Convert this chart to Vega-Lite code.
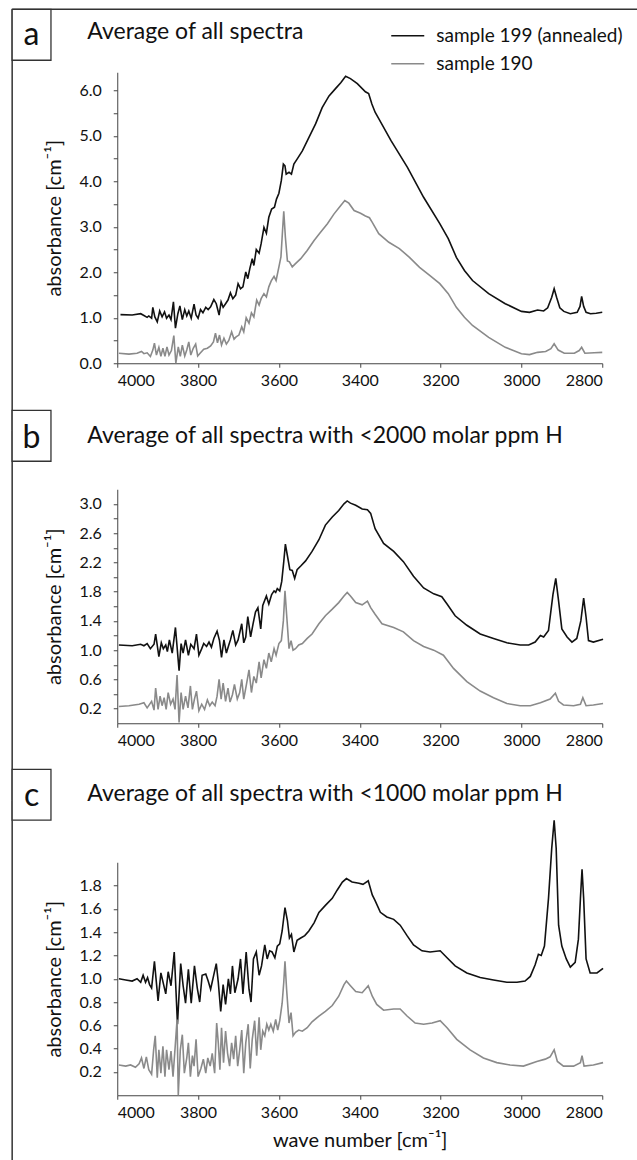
{
"$schema": "https://vega.github.io/schema/vega-lite/v6.json",
"background": "white",
"padding": {"left": 11.25, "top": 8.25, "right": 0, "bottom": 0},
"config": {
  "font": "Lato",
  "view": {"stroke": null},
  "axis": {"domainColor": "#444444", "tickColor": "#444444", "labelColor": "#111111", "titleColor": "#111111", "labelFont": "Lato", "titleFont": "Lato", "labelFontSize": 16, "titleFontSize": 20, "titleFontWeight": "normal", "grid": false, "tickSize": 4, "domainWidth": 1, "tickWidth": 1, "labelOverlap": false, "tickCount": 50},
  "line": {"strokeWidth": 1.5}
},
"bounds": "flush",
"spacing": 126,
"resolve": {"scale": {"x": "independent", "y": "independent"}, "axis": {"x": "independent", "y": "independent"}, "legend": {"color": "independent"}},
"datasets": {
"a": [
{"series":"sample 199 (annealed)","wavenumber":3992,"absorbance":1.07},{"series":"sample 199 (annealed)","wavenumber":3963,"absorbance":1.06},{"series":"sample 199 (annealed)","wavenumber":3942,"absorbance":1.09},{"series":"sample 199 (annealed)","wavenumber":3934,"absorbance":1.05},{"series":"sample 199 (annealed)","wavenumber":3926,"absorbance":1.01},{"series":"sample 199 (annealed)","wavenumber":3922,"absorbance":1.04},{"series":"sample 199 (annealed)","wavenumber":3915,"absorbance":0.99},{"series":"sample 199 (annealed)","wavenumber":3912,"absorbance":1.23},{"series":"sample 199 (annealed)","wavenumber":3907,"absorbance":1.02},{"series":"sample 199 (annealed)","wavenumber":3901,"absorbance":0.91},{"series":"sample 199 (annealed)","wavenumber":3895,"absorbance":1.15},{"series":"sample 199 (annealed)","wavenumber":3889,"absorbance":1.02},{"series":"sample 199 (annealed)","wavenumber":3883,"absorbance":1.13},{"series":"sample 199 (annealed)","wavenumber":3878,"absorbance":0.99},{"series":"sample 199 (annealed)","wavenumber":3872,"absorbance":1.06},{"series":"sample 199 (annealed)","wavenumber":3867,"absorbance":0.96},{"series":"sample 199 (annealed)","wavenumber":3861,"absorbance":1.35},{"series":"sample 199 (annealed)","wavenumber":3856,"absorbance":0.77},{"series":"sample 199 (annealed)","wavenumber":3850,"absorbance":1.09},{"series":"sample 199 (annealed)","wavenumber":3845,"absorbance":1.26},{"series":"sample 199 (annealed)","wavenumber":3839,"absorbance":0.96},{"series":"sample 199 (annealed)","wavenumber":3833,"absorbance":1.18},{"series":"sample 199 (annealed)","wavenumber":3828,"absorbance":1.04},{"series":"sample 199 (annealed)","wavenumber":3823,"absorbance":1.15},{"series":"sample 199 (annealed)","wavenumber":3817,"absorbance":0.99},{"series":"sample 199 (annealed)","wavenumber":3810,"absorbance":1.30},{"series":"sample 199 (annealed)","wavenumber":3805,"absorbance":1.06},{"series":"sample 199 (annealed)","wavenumber":3800,"absorbance":0.99},{"series":"sample 199 (annealed)","wavenumber":3794,"absorbance":1.18},{"series":"sample 199 (annealed)","wavenumber":3788,"absorbance":1.11},{"series":"sample 199 (annealed)","wavenumber":3781,"absorbance":1.23},{"series":"sample 199 (annealed)","wavenumber":3775,"absorbance":1.18},{"series":"sample 199 (annealed)","wavenumber":3769,"absorbance":1.24},{"series":"sample 199 (annealed)","wavenumber":3761,"absorbance":1.40},{"series":"sample 199 (annealed)","wavenumber":3755,"absorbance":1.31},{"series":"sample 199 (annealed)","wavenumber":3748,"absorbance":1.06},{"series":"sample 199 (annealed)","wavenumber":3743,"absorbance":1.35},{"series":"sample 199 (annealed)","wavenumber":3738,"absorbance":1.23},{"series":"sample 199 (annealed)","wavenumber":3732,"absorbance":1.31},{"series":"sample 199 (annealed)","wavenumber":3726,"absorbance":1.39},{"series":"sample 199 (annealed)","wavenumber":3720,"absorbance":1.55},{"series":"sample 199 (annealed)","wavenumber":3714,"absorbance":1.42},{"series":"sample 199 (annealed)","wavenumber":3707,"absorbance":1.50},{"series":"sample 199 (annealed)","wavenumber":3701,"absorbance":1.75},{"series":"sample 199 (annealed)","wavenumber":3695,"absorbance":1.64},{"series":"sample 199 (annealed)","wavenumber":3689,"absorbance":1.68},{"series":"sample 199 (annealed)","wavenumber":3682,"absorbance":2.01},{"series":"sample 199 (annealed)","wavenumber":3677,"absorbance":1.86},{"series":"sample 199 (annealed)","wavenumber":3672,"absorbance":2.08},{"series":"sample 199 (annealed)","wavenumber":3666,"absorbance":2.30},{"series":"sample 199 (annealed)","wavenumber":3662,"absorbance":2.15},{"series":"sample 199 (annealed)","wavenumber":3656,"absorbance":2.50},{"series":"sample 199 (annealed)","wavenumber":3649,"absorbance":2.42},{"series":"sample 199 (annealed)","wavenumber":3644,"absorbance":2.63},{"series":"sample 199 (annealed)","wavenumber":3637,"absorbance":2.99},{"series":"sample 199 (annealed)","wavenumber":3631,"absorbance":2.86},{"series":"sample 199 (annealed)","wavenumber":3625,"absorbance":3.21},{"series":"sample 199 (annealed)","wavenumber":3618,"absorbance":3.39},{"series":"sample 199 (annealed)","wavenumber":3611,"absorbance":3.43},{"series":"sample 199 (annealed)","wavenumber":3606,"absorbance":3.61},{"series":"sample 199 (annealed)","wavenumber":3600,"absorbance":3.74},{"series":"sample 199 (annealed)","wavenumber":3594,"absorbance":4.02},{"series":"sample 199 (annealed)","wavenumber":3589,"absorbance":4.38},{"series":"sample 199 (annealed)","wavenumber":3585,"absorbance":4.34},{"series":"sample 199 (annealed)","wavenumber":3582,"absorbance":4.16},{"series":"sample 199 (annealed)","wavenumber":3575,"absorbance":4.20},{"series":"sample 199 (annealed)","wavenumber":3569,"absorbance":4.16},{"series":"sample 199 (annealed)","wavenumber":3563,"absorbance":4.38},{"series":"sample 199 (annealed)","wavenumber":3555,"absorbance":4.49},{"series":"sample 199 (annealed)","wavenumber":3542,"absorbance":4.67},{"series":"sample 199 (annealed)","wavenumber":3526,"absorbance":4.96},{"series":"sample 199 (annealed)","wavenumber":3509,"absorbance":5.27},{"series":"sample 199 (annealed)","wavenumber":3493,"absorbance":5.62},{"series":"sample 199 (annealed)","wavenumber":3476,"absorbance":5.88},{"series":"sample 199 (annealed)","wavenumber":3460,"absorbance":6.04},{"series":"sample 199 (annealed)","wavenumber":3447,"absorbance":6.17},{"series":"sample 199 (annealed)","wavenumber":3435,"absorbance":6.31},{"series":"sample 199 (annealed)","wavenumber":3423,"absorbance":6.26},{"series":"sample 199 (annealed)","wavenumber":3406,"absorbance":6.15},{"series":"sample 199 (annealed)","wavenumber":3386,"absorbance":5.97},{"series":"sample 199 (annealed)","wavenumber":3378,"absorbance":5.93},{"series":"sample 199 (annealed)","wavenumber":3370,"absorbance":5.70},{"series":"sample 199 (annealed)","wavenumber":3362,"absorbance":5.52},{"series":"sample 199 (annealed)","wavenumber":3353,"absorbance":5.38},{"series":"sample 199 (annealed)","wavenumber":3323,"absorbance":4.90},{"series":"sample 199 (annealed)","wavenumber":3282,"absorbance":4.31},{"series":"sample 199 (annealed)","wavenumber":3242,"absorbance":3.65},{"series":"sample 199 (annealed)","wavenumber":3202,"absorbance":3.07},{"series":"sample 199 (annealed)","wavenumber":3181,"absorbance":2.74},{"series":"sample 199 (annealed)","wavenumber":3161,"absorbance":2.33},{"series":"sample 199 (annealed)","wavenumber":3141,"absorbance":2.04},{"series":"sample 199 (annealed)","wavenumber":3121,"absorbance":1.82},{"series":"sample 199 (annealed)","wavenumber":3081,"absorbance":1.53},{"series":"sample 199 (annealed)","wavenumber":3040,"absorbance":1.31},{"series":"sample 199 (annealed)","wavenumber":3000,"absorbance":1.14},{"series":"sample 199 (annealed)","wavenumber":2980,"absorbance":1.12},{"series":"sample 199 (annealed)","wavenumber":2960,"absorbance":1.17},{"series":"sample 199 (annealed)","wavenumber":2945,"absorbance":1.15},{"series":"sample 199 (annealed)","wavenumber":2935,"absorbance":1.22},{"series":"sample 199 (annealed)","wavenumber":2925,"absorbance":1.45},{"series":"sample 199 (annealed)","wavenumber":2919,"absorbance":1.64},{"series":"sample 199 (annealed)","wavenumber":2913,"absorbance":1.45},{"series":"sample 199 (annealed)","wavenumber":2905,"absorbance":1.22},{"series":"sample 199 (annealed)","wavenumber":2895,"absorbance":1.14},{"series":"sample 199 (annealed)","wavenumber":2879,"absorbance":1.09},{"series":"sample 199 (annealed)","wavenumber":2862,"absorbance":1.12},{"series":"sample 199 (annealed)","wavenumber":2855,"absorbance":1.25},{"series":"sample 199 (annealed)","wavenumber":2851,"absorbance":1.47},{"series":"sample 199 (annealed)","wavenumber":2846,"absorbance":1.25},{"series":"sample 199 (annealed)","wavenumber":2840,"absorbance":1.12},{"series":"sample 199 (annealed)","wavenumber":2829,"absorbance":1.09},{"series":"sample 199 (annealed)","wavenumber":2815,"absorbance":1.10},{"series":"sample 199 (annealed)","wavenumber":2800,"absorbance":1.12},
{"series":"sample 190","wavenumber":3996,"absorbance":0.22},{"series":"sample 190","wavenumber":3971,"absorbance":0.20},{"series":"sample 190","wavenumber":3951,"absorbance":0.22},{"series":"sample 190","wavenumber":3940,"absorbance":0.26},{"series":"sample 190","wavenumber":3934,"absorbance":0.21},{"series":"sample 190","wavenumber":3926,"absorbance":0.23},{"series":"sample 190","wavenumber":3918,"absorbance":0.15},{"series":"sample 190","wavenumber":3912,"absorbance":0.29},{"series":"sample 190","wavenumber":3908,"absorbance":0.44},{"series":"sample 190","wavenumber":3903,"absorbance":0.18},{"series":"sample 190","wavenumber":3897,"absorbance":0.35},{"series":"sample 190","wavenumber":3892,"absorbance":0.15},{"series":"sample 190","wavenumber":3887,"absorbance":0.33},{"series":"sample 190","wavenumber":3882,"absorbance":0.15},{"series":"sample 190","wavenumber":3877,"absorbance":0.36},{"series":"sample 190","wavenumber":3872,"absorbance":0.18},{"series":"sample 190","wavenumber":3866,"absorbance":0.28},{"series":"sample 190","wavenumber":3860,"absorbance":0.61},{"series":"sample 190","wavenumber":3855,"absorbance":0.0},{"series":"sample 190","wavenumber":3849,"absorbance":0.36},{"series":"sample 190","wavenumber":3844,"absorbance":0.15},{"series":"sample 190","wavenumber":3839,"absorbance":0.40},{"series":"sample 190","wavenumber":3833,"absorbance":0.16},{"series":"sample 190","wavenumber":3828,"absorbance":0.29},{"series":"sample 190","wavenumber":3823,"absorbance":0.47},{"series":"sample 190","wavenumber":3818,"absorbance":0.18},{"series":"sample 190","wavenumber":3812,"absorbance":0.33},{"series":"sample 190","wavenumber":3806,"absorbance":0.42},{"series":"sample 190","wavenumber":3801,"absorbance":0.16},{"series":"sample 190","wavenumber":3794,"absorbance":0.23},{"series":"sample 190","wavenumber":3786,"absorbance":0.31},{"series":"sample 190","wavenumber":3777,"absorbance":0.33},{"series":"sample 190","wavenumber":3769,"absorbance":0.38},{"series":"sample 190","wavenumber":3762,"absorbance":0.47},{"series":"sample 190","wavenumber":3757,"absorbance":0.66},{"series":"sample 190","wavenumber":3752,"absorbance":0.45},{"series":"sample 190","wavenumber":3747,"absorbance":0.62},{"series":"sample 190","wavenumber":3742,"absorbance":0.40},{"series":"sample 190","wavenumber":3736,"absorbance":0.55},{"series":"sample 190","wavenumber":3730,"absorbance":0.42},{"series":"sample 190","wavenumber":3724,"absorbance":0.50},{"series":"sample 190","wavenumber":3717,"absorbance":0.69},{"series":"sample 190","wavenumber":3711,"absorbance":0.53},{"series":"sample 190","wavenumber":3706,"absorbance":0.58},{"series":"sample 190","wavenumber":3699,"absorbance":0.62},{"series":"sample 190","wavenumber":3692,"absorbance":0.80},{"series":"sample 190","wavenumber":3687,"absorbance":0.69},{"series":"sample 190","wavenumber":3681,"absorbance":1.00},{"series":"sample 190","wavenumber":3674,"absorbance":0.88},{"series":"sample 190","wavenumber":3668,"absorbance":1.11},{"series":"sample 190","wavenumber":3662,"absorbance":1.02},{"series":"sample 190","wavenumber":3655,"absorbance":1.39},{"series":"sample 190","wavenumber":3649,"absorbance":1.28},{"series":"sample 190","wavenumber":3644,"absorbance":1.42},{"series":"sample 190","wavenumber":3637,"absorbance":1.53},{"series":"sample 190","wavenumber":3631,"absorbance":1.46},{"series":"sample 190","wavenumber":3625,"absorbance":1.68},{"series":"sample 190","wavenumber":3619,"absorbance":1.81},{"series":"sample 190","wavenumber":3612,"absorbance":1.91},{"series":"sample 190","wavenumber":3607,"absorbance":1.82},{"series":"sample 190","wavenumber":3600,"absorbance":2.12},{"series":"sample 190","wavenumber":3595,"absorbance":2.34},{"series":"sample 190","wavenumber":3591,"absorbance":2.92},{"series":"sample 190","wavenumber":3588,"absorbance":3.34},{"series":"sample 190","wavenumber":3584,"absorbance":2.77},{"series":"sample 190","wavenumber":3579,"absorbance":2.25},{"series":"sample 190","wavenumber":3574,"absorbance":2.23},{"series":"sample 190","wavenumber":3567,"absorbance":2.12},{"series":"sample 190","wavenumber":3559,"absorbance":2.19},{"series":"sample 190","wavenumber":3546,"absorbance":2.30},{"series":"sample 190","wavenumber":3530,"absorbance":2.48},{"series":"sample 190","wavenumber":3513,"absorbance":2.70},{"series":"sample 190","wavenumber":3497,"absorbance":2.88},{"series":"sample 190","wavenumber":3480,"absorbance":3.07},{"series":"sample 190","wavenumber":3464,"absorbance":3.28},{"series":"sample 190","wavenumber":3447,"absorbance":3.47},{"series":"sample 190","wavenumber":3437,"absorbance":3.58},{"series":"sample 190","wavenumber":3427,"absorbance":3.52},{"series":"sample 190","wavenumber":3414,"absorbance":3.36},{"series":"sample 190","wavenumber":3398,"absorbance":3.30},{"series":"sample 190","wavenumber":3386,"absorbance":3.24},{"series":"sample 190","wavenumber":3376,"absorbance":3.20},{"series":"sample 190","wavenumber":3369,"absorbance":3.10},{"series":"sample 190","wavenumber":3353,"absorbance":2.85},{"series":"sample 190","wavenumber":3328,"absorbance":2.66},{"series":"sample 190","wavenumber":3302,"absorbance":2.52},{"series":"sample 190","wavenumber":3277,"absorbance":2.33},{"series":"sample 190","wavenumber":3252,"absorbance":2.11},{"series":"sample 190","wavenumber":3227,"absorbance":1.93},{"series":"sample 190","wavenumber":3202,"absorbance":1.75},{"series":"sample 190","wavenumber":3181,"absorbance":1.53},{"series":"sample 190","wavenumber":3161,"absorbance":1.23},{"series":"sample 190","wavenumber":3141,"absorbance":1.01},{"series":"sample 190","wavenumber":3121,"absorbance":0.83},{"series":"sample 190","wavenumber":3081,"absorbance":0.57},{"series":"sample 190","wavenumber":3040,"absorbance":0.35},{"series":"sample 190","wavenumber":3000,"absorbance":0.21},{"series":"sample 190","wavenumber":2980,"absorbance":0.19},{"series":"sample 190","wavenumber":2960,"absorbance":0.24},{"series":"sample 190","wavenumber":2940,"absorbance":0.26},{"series":"sample 190","wavenumber":2927,"absorbance":0.32},{"series":"sample 190","wavenumber":2919,"absorbance":0.43},{"series":"sample 190","wavenumber":2909,"absorbance":0.29},{"series":"sample 190","wavenumber":2894,"absorbance":0.22},{"series":"sample 190","wavenumber":2869,"absorbance":0.22},{"series":"sample 190","wavenumber":2857,"absorbance":0.28},{"series":"sample 190","wavenumber":2851,"absorbance":0.35},{"series":"sample 190","wavenumber":2843,"absorbance":0.22},{"series":"sample 190","wavenumber":2820,"absorbance":0.23},{"series":"sample 190","wavenumber":2800,"absorbance":0.24}
],
"b": [
{"series":"sample 199 (annealed)","wavenumber":3996,"absorbance":1.07},{"series":"sample 199 (annealed)","wavenumber":3963,"absorbance":1.06},{"series":"sample 199 (annealed)","wavenumber":3942,"absorbance":1.08},{"series":"sample 199 (annealed)","wavenumber":3934,"absorbance":1.06},{"series":"sample 199 (annealed)","wavenumber":3926,"absorbance":1.09},{"series":"sample 199 (annealed)","wavenumber":3918,"absorbance":1.02},{"series":"sample 199 (annealed)","wavenumber":3909,"absorbance":1.08},{"series":"sample 199 (annealed)","wavenumber":3905,"absorbance":1.22},{"series":"sample 199 (annealed)","wavenumber":3897,"absorbance":0.91},{"series":"sample 199 (annealed)","wavenumber":3891,"absorbance":1.10},{"series":"sample 199 (annealed)","wavenumber":3886,"absorbance":1.02},{"series":"sample 199 (annealed)","wavenumber":3880,"absorbance":1.07},{"series":"sample 199 (annealed)","wavenumber":3876,"absorbance":0.98},{"series":"sample 199 (annealed)","wavenumber":3871,"absorbance":1.14},{"series":"sample 199 (annealed)","wavenumber":3864,"absorbance":0.96},{"series":"sample 199 (annealed)","wavenumber":3856,"absorbance":1.31},{"series":"sample 199 (annealed)","wavenumber":3847,"absorbance":0.72},{"series":"sample 199 (annealed)","wavenumber":3842,"absorbance":1.09},{"series":"sample 199 (annealed)","wavenumber":3837,"absorbance":0.96},{"series":"sample 199 (annealed)","wavenumber":3831,"absorbance":1.14},{"series":"sample 199 (annealed)","wavenumber":3824,"absorbance":0.93},{"series":"sample 199 (annealed)","wavenumber":3818,"absorbance":1.08},{"series":"sample 199 (annealed)","wavenumber":3810,"absorbance":1.02},{"series":"sample 199 (annealed)","wavenumber":3804,"absorbance":1.22},{"series":"sample 199 (annealed)","wavenumber":3798,"absorbance":0.93},{"series":"sample 199 (annealed)","wavenumber":3791,"absorbance":1.02},{"series":"sample 199 (annealed)","wavenumber":3786,"absorbance":1.09},{"series":"sample 199 (annealed)","wavenumber":3779,"absorbance":1.05},{"series":"sample 199 (annealed)","wavenumber":3773,"absorbance":1.11},{"series":"sample 199 (annealed)","wavenumber":3767,"absorbance":1.04},{"series":"sample 199 (annealed)","wavenumber":3761,"absorbance":1.16},{"series":"sample 199 (annealed)","wavenumber":3753,"absorbance":1.26},{"series":"sample 199 (annealed)","wavenumber":3747,"absorbance":1.13},{"series":"sample 199 (annealed)","wavenumber":3742,"absorbance":0.90},{"series":"sample 199 (annealed)","wavenumber":3736,"absorbance":1.14},{"series":"sample 199 (annealed)","wavenumber":3730,"absorbance":0.96},{"series":"sample 199 (annealed)","wavenumber":3724,"absorbance":1.07},{"series":"sample 199 (annealed)","wavenumber":3720,"absorbance":1.14},{"series":"sample 199 (annealed)","wavenumber":3714,"absorbance":1.27},{"series":"sample 199 (annealed)","wavenumber":3707,"absorbance":1.07},{"series":"sample 199 (annealed)","wavenumber":3701,"absorbance":1.14},{"series":"sample 199 (annealed)","wavenumber":3692,"absorbance":1.36},{"series":"sample 199 (annealed)","wavenumber":3687,"absorbance":1.10},{"series":"sample 199 (annealed)","wavenumber":3682,"absorbance":1.18},{"series":"sample 199 (annealed)","wavenumber":3677,"absorbance":1.46},{"series":"sample 199 (annealed)","wavenumber":3670,"absorbance":1.18},{"series":"sample 199 (annealed)","wavenumber":3664,"absorbance":1.36},{"series":"sample 199 (annealed)","wavenumber":3658,"absorbance":1.52},{"series":"sample 199 (annealed)","wavenumber":3652,"absorbance":1.58},{"series":"sample 199 (annealed)","wavenumber":3645,"absorbance":1.29},{"series":"sample 199 (annealed)","wavenumber":3640,"absorbance":1.61},{"series":"sample 199 (annealed)","wavenumber":3631,"absorbance":1.74},{"series":"sample 199 (annealed)","wavenumber":3625,"absorbance":1.63},{"series":"sample 199 (annealed)","wavenumber":3618,"absorbance":1.76},{"series":"sample 199 (annealed)","wavenumber":3612,"absorbance":1.81},{"series":"sample 199 (annealed)","wavenumber":3608,"absorbance":1.79},{"series":"sample 199 (annealed)","wavenumber":3604,"absorbance":1.84},{"series":"sample 199 (annealed)","wavenumber":3598,"absorbance":1.81},{"series":"sample 199 (annealed)","wavenumber":3593,"absorbance":1.94},{"series":"sample 199 (annealed)","wavenumber":3588,"absorbance":2.21},{"series":"sample 199 (annealed)","wavenumber":3584,"absorbance":2.45},{"series":"sample 199 (annealed)","wavenumber":3578,"absorbance":2.26},{"series":"sample 199 (annealed)","wavenumber":3573,"absorbance":2.10},{"series":"sample 199 (annealed)","wavenumber":3567,"absorbance":2.09},{"series":"sample 199 (annealed)","wavenumber":3561,"absorbance":1.98},{"series":"sample 199 (annealed)","wavenumber":3555,"absorbance":2.10},{"series":"sample 199 (annealed)","wavenumber":3546,"absorbance":2.15},{"series":"sample 199 (annealed)","wavenumber":3534,"absorbance":2.22},{"series":"sample 199 (annealed)","wavenumber":3518,"absorbance":2.35},{"series":"sample 199 (annealed)","wavenumber":3501,"absorbance":2.51},{"series":"sample 199 (annealed)","wavenumber":3485,"absorbance":2.71},{"series":"sample 199 (annealed)","wavenumber":3468,"absorbance":2.82},{"series":"sample 199 (annealed)","wavenumber":3452,"absorbance":2.91},{"series":"sample 199 (annealed)","wavenumber":3439,"absorbance":3.00},{"series":"sample 199 (annealed)","wavenumber":3431,"absorbance":3.04},{"series":"sample 199 (annealed)","wavenumber":3423,"absorbance":3.01},{"series":"sample 199 (annealed)","wavenumber":3410,"absorbance":2.98},{"series":"sample 199 (annealed)","wavenumber":3394,"absorbance":2.93},{"series":"sample 199 (annealed)","wavenumber":3381,"absorbance":2.92},{"series":"sample 199 (annealed)","wavenumber":3373,"absorbance":2.87},{"series":"sample 199 (annealed)","wavenumber":3362,"absorbance":2.66},{"series":"sample 199 (annealed)","wavenumber":3341,"absorbance":2.46},{"series":"sample 199 (annealed)","wavenumber":3316,"absorbance":2.35},{"series":"sample 199 (annealed)","wavenumber":3292,"absorbance":2.21},{"series":"sample 199 (annealed)","wavenumber":3267,"absorbance":2.01},{"series":"sample 199 (annealed)","wavenumber":3242,"absorbance":1.85},{"series":"sample 199 (annealed)","wavenumber":3217,"absorbance":1.77},{"series":"sample 199 (annealed)","wavenumber":3197,"absorbance":1.73},{"series":"sample 199 (annealed)","wavenumber":3184,"absorbance":1.63},{"series":"sample 199 (annealed)","wavenumber":3164,"absorbance":1.47},{"series":"sample 199 (annealed)","wavenumber":3135,"absorbance":1.34},{"series":"sample 199 (annealed)","wavenumber":3102,"absorbance":1.22},{"series":"sample 199 (annealed)","wavenumber":3069,"absorbance":1.16},{"series":"sample 199 (annealed)","wavenumber":3036,"absorbance":1.10},{"series":"sample 199 (annealed)","wavenumber":3003,"absorbance":1.07},{"series":"sample 199 (annealed)","wavenumber":2982,"absorbance":1.07},{"series":"sample 199 (annealed)","wavenumber":2966,"absorbance":1.11},{"series":"sample 199 (annealed)","wavenumber":2953,"absorbance":1.20},{"series":"sample 199 (annealed)","wavenumber":2945,"absorbance":1.18},{"series":"sample 199 (annealed)","wavenumber":2933,"absorbance":1.27},{"series":"sample 199 (annealed)","wavenumber":2922,"absorbance":1.76},{"series":"sample 199 (annealed)","wavenumber":2915,"absorbance":1.98},{"series":"sample 199 (annealed)","wavenumber":2908,"absorbance":1.67},{"series":"sample 199 (annealed)","wavenumber":2900,"absorbance":1.29},{"series":"sample 199 (annealed)","wavenumber":2887,"absorbance":1.18},{"series":"sample 199 (annealed)","wavenumber":2875,"absorbance":1.11},{"series":"sample 199 (annealed)","wavenumber":2863,"absorbance":1.16},{"series":"sample 199 (annealed)","wavenumber":2853,"absorbance":1.40},{"series":"sample 199 (annealed)","wavenumber":2846,"absorbance":1.71},{"series":"sample 199 (annealed)","wavenumber":2840,"absorbance":1.45},{"series":"sample 199 (annealed)","wavenumber":2834,"absorbance":1.13},{"series":"sample 199 (annealed)","wavenumber":2822,"absorbance":1.11},{"series":"sample 199 (annealed)","wavenumber":2798,"absorbance":1.15},
{"series":"sample 190","wavenumber":3996,"absorbance":0.23},{"series":"sample 190","wavenumber":3971,"absorbance":0.24},{"series":"sample 190","wavenumber":3946,"absorbance":0.26},{"series":"sample 190","wavenumber":3934,"absorbance":0.28},{"series":"sample 190","wavenumber":3926,"absorbance":0.21},{"series":"sample 190","wavenumber":3915,"absorbance":0.30},{"series":"sample 190","wavenumber":3909,"absorbance":0.18},{"series":"sample 190","wavenumber":3905,"absorbance":0.48},{"series":"sample 190","wavenumber":3899,"absorbance":0.19},{"series":"sample 190","wavenumber":3894,"absorbance":0.37},{"series":"sample 190","wavenumber":3889,"absorbance":0.24},{"series":"sample 190","wavenumber":3884,"absorbance":0.35},{"series":"sample 190","wavenumber":3879,"absorbance":0.19},{"series":"sample 190","wavenumber":3874,"absorbance":0.42},{"series":"sample 190","wavenumber":3868,"absorbance":0.26},{"series":"sample 190","wavenumber":3862,"absorbance":0.33},{"series":"sample 190","wavenumber":3857,"absorbance":0.19},{"series":"sample 190","wavenumber":3852,"absorbance":0.66},{"series":"sample 190","wavenumber":3847,"absorbance":0.01},{"series":"sample 190","wavenumber":3842,"absorbance":0.42},{"series":"sample 190","wavenumber":3837,"absorbance":0.19},{"series":"sample 190","wavenumber":3831,"absorbance":0.37},{"series":"sample 190","wavenumber":3825,"absorbance":0.21},{"series":"sample 190","wavenumber":3819,"absorbance":0.51},{"series":"sample 190","wavenumber":3814,"absorbance":0.19},{"series":"sample 190","wavenumber":3809,"absorbance":0.33},{"series":"sample 190","wavenumber":3804,"absorbance":0.44},{"series":"sample 190","wavenumber":3798,"absorbance":0.17},{"series":"sample 190","wavenumber":3791,"absorbance":0.26},{"series":"sample 190","wavenumber":3784,"absorbance":0.19},{"series":"sample 190","wavenumber":3777,"absorbance":0.32},{"series":"sample 190","wavenumber":3771,"absorbance":0.24},{"series":"sample 190","wavenumber":3765,"absorbance":0.29},{"series":"sample 190","wavenumber":3758,"absorbance":0.24},{"series":"sample 190","wavenumber":3753,"absorbance":0.37},{"series":"sample 190","wavenumber":3748,"absorbance":0.60},{"series":"sample 190","wavenumber":3743,"absorbance":0.33},{"series":"sample 190","wavenumber":3738,"absorbance":0.55},{"series":"sample 190","wavenumber":3732,"absorbance":0.30},{"series":"sample 190","wavenumber":3726,"absorbance":0.48},{"series":"sample 190","wavenumber":3721,"absorbance":0.29},{"series":"sample 190","wavenumber":3715,"absorbance":0.39},{"series":"sample 190","wavenumber":3710,"absorbance":0.53},{"series":"sample 190","wavenumber":3703,"absorbance":0.33},{"series":"sample 190","wavenumber":3697,"absorbance":0.42},{"series":"sample 190","wavenumber":3692,"absorbance":0.60},{"series":"sample 190","wavenumber":3687,"absorbance":0.33},{"series":"sample 190","wavenumber":3681,"absorbance":0.51},{"series":"sample 190","wavenumber":3674,"absorbance":0.73},{"series":"sample 190","wavenumber":3668,"absorbance":0.42},{"series":"sample 190","wavenumber":3662,"absorbance":0.64},{"series":"sample 190","wavenumber":3656,"absorbance":0.55},{"series":"sample 190","wavenumber":3649,"absorbance":0.84},{"series":"sample 190","wavenumber":3644,"absorbance":0.62},{"series":"sample 190","wavenumber":3637,"absorbance":0.87},{"series":"sample 190","wavenumber":3631,"absorbance":0.75},{"series":"sample 190","wavenumber":3625,"absorbance":0.96},{"series":"sample 190","wavenumber":3619,"absorbance":0.84},{"series":"sample 190","wavenumber":3612,"absorbance":1.02},{"series":"sample 190","wavenumber":3607,"absorbance":0.93},{"series":"sample 190","wavenumber":3600,"absorbance":1.09},{"series":"sample 190","wavenumber":3594,"absorbance":1.13},{"series":"sample 190","wavenumber":3589,"absorbance":1.40},{"series":"sample 190","wavenumber":3585,"absorbance":1.81},{"series":"sample 190","wavenumber":3581,"absorbance":1.49},{"series":"sample 190","wavenumber":3575,"absorbance":1.02},{"series":"sample 190","wavenumber":3570,"absorbance":1.13},{"series":"sample 190","wavenumber":3565,"absorbance":1.00},{"series":"sample 190","wavenumber":3559,"absorbance":1.02},{"series":"sample 190","wavenumber":3551,"absorbance":1.07},{"series":"sample 190","wavenumber":3542,"absorbance":1.09},{"series":"sample 190","wavenumber":3530,"absorbance":1.16},{"series":"sample 190","wavenumber":3518,"absorbance":1.22},{"series":"sample 190","wavenumber":3501,"absorbance":1.36},{"series":"sample 190","wavenumber":3485,"absorbance":1.47},{"series":"sample 190","wavenumber":3468,"absorbance":1.56},{"series":"sample 190","wavenumber":3452,"absorbance":1.65},{"series":"sample 190","wavenumber":3439,"absorbance":1.74},{"series":"sample 190","wavenumber":3431,"absorbance":1.79},{"series":"sample 190","wavenumber":3423,"absorbance":1.74},{"series":"sample 190","wavenumber":3410,"absorbance":1.65},{"series":"sample 190","wavenumber":3394,"absorbance":1.62},{"series":"sample 190","wavenumber":3381,"absorbance":1.67},{"series":"sample 190","wavenumber":3373,"absorbance":1.58},{"series":"sample 190","wavenumber":3362,"absorbance":1.49},{"series":"sample 190","wavenumber":3345,"absorbance":1.36},{"series":"sample 190","wavenumber":3316,"absorbance":1.31},{"series":"sample 190","wavenumber":3292,"absorbance":1.25},{"series":"sample 190","wavenumber":3267,"absorbance":1.13},{"series":"sample 190","wavenumber":3242,"absorbance":1.05},{"series":"sample 190","wavenumber":3217,"absorbance":1.00},{"series":"sample 190","wavenumber":3193,"absorbance":0.93},{"series":"sample 190","wavenumber":3168,"absorbance":0.75},{"series":"sample 190","wavenumber":3135,"absorbance":0.57},{"series":"sample 190","wavenumber":3102,"absorbance":0.44},{"series":"sample 190","wavenumber":3069,"absorbance":0.35},{"series":"sample 190","wavenumber":3036,"absorbance":0.27},{"series":"sample 190","wavenumber":3003,"absorbance":0.24},{"series":"sample 190","wavenumber":2978,"absorbance":0.24},{"series":"sample 190","wavenumber":2953,"absorbance":0.28},{"series":"sample 190","wavenumber":2929,"absorbance":0.33},{"series":"sample 190","wavenumber":2916,"absorbance":0.41},{"series":"sample 190","wavenumber":2908,"absorbance":0.30},{"series":"sample 190","wavenumber":2896,"absorbance":0.25},{"series":"sample 190","wavenumber":2871,"absorbance":0.24},{"series":"sample 190","wavenumber":2854,"absorbance":0.26},{"series":"sample 190","wavenumber":2848,"absorbance":0.35},{"series":"sample 190","wavenumber":2840,"absorbance":0.24},{"series":"sample 190","wavenumber":2822,"absorbance":0.25},{"series":"sample 190","wavenumber":2798,"absorbance":0.27}
],
"c": [
{"series":"sample 199 (annealed)","wavenumber":3996,"absorbance":1.00},{"series":"sample 199 (annealed)","wavenumber":3979,"absorbance":0.99},{"series":"sample 199 (annealed)","wavenumber":3963,"absorbance":0.98},{"series":"sample 199 (annealed)","wavenumber":3951,"absorbance":1.00},{"series":"sample 199 (annealed)","wavenumber":3942,"absorbance":0.97},{"series":"sample 199 (annealed)","wavenumber":3936,"absorbance":1.03},{"series":"sample 199 (annealed)","wavenumber":3930,"absorbance":0.97},{"series":"sample 199 (annealed)","wavenumber":3925,"absorbance":1.01},{"series":"sample 199 (annealed)","wavenumber":3920,"absorbance":0.95},{"series":"sample 199 (annealed)","wavenumber":3915,"absorbance":0.92},{"series":"sample 199 (annealed)","wavenumber":3908,"absorbance":1.15},{"series":"sample 199 (annealed)","wavenumber":3899,"absorbance":0.81},{"series":"sample 199 (annealed)","wavenumber":3892,"absorbance":1.05},{"series":"sample 199 (annealed)","wavenumber":3886,"absorbance":0.96},{"series":"sample 199 (annealed)","wavenumber":3880,"absorbance":0.87},{"series":"sample 199 (annealed)","wavenumber":3874,"absorbance":1.06},{"series":"sample 199 (annealed)","wavenumber":3867,"absorbance":0.94},{"series":"sample 199 (annealed)","wavenumber":3859,"absorbance":1.23},{"series":"sample 199 (annealed)","wavenumber":3851,"absorbance":0.61},{"series":"sample 199 (annealed)","wavenumber":3843,"absorbance":1.13},{"series":"sample 199 (annealed)","wavenumber":3837,"absorbance":0.94},{"series":"sample 199 (annealed)","wavenumber":3831,"absorbance":0.79},{"series":"sample 199 (annealed)","wavenumber":3824,"absorbance":1.08},{"series":"sample 199 (annealed)","wavenumber":3817,"absorbance":0.79},{"series":"sample 199 (annealed)","wavenumber":3809,"absorbance":1.11},{"series":"sample 199 (annealed)","wavenumber":3802,"absorbance":0.92},{"series":"sample 199 (annealed)","wavenumber":3796,"absorbance":0.80},{"series":"sample 199 (annealed)","wavenumber":3790,"absorbance":1.03},{"series":"sample 199 (annealed)","wavenumber":3781,"absorbance":1.04},{"series":"sample 199 (annealed)","wavenumber":3775,"absorbance":0.98},{"series":"sample 199 (annealed)","wavenumber":3769,"absorbance":0.91},{"series":"sample 199 (annealed)","wavenumber":3762,"absorbance":1.02},{"series":"sample 199 (annealed)","wavenumber":3755,"absorbance":1.13},{"series":"sample 199 (annealed)","wavenumber":3750,"absorbance":0.97},{"series":"sample 199 (annealed)","wavenumber":3744,"absorbance":0.72},{"series":"sample 199 (annealed)","wavenumber":3738,"absorbance":0.95},{"series":"sample 199 (annealed)","wavenumber":3732,"absorbance":0.78},{"series":"sample 199 (annealed)","wavenumber":3725,"absorbance":1.00},{"series":"sample 199 (annealed)","wavenumber":3720,"absorbance":0.87},{"series":"sample 199 (annealed)","wavenumber":3715,"absorbance":1.11},{"series":"sample 199 (annealed)","wavenumber":3709,"absorbance":0.88},{"series":"sample 199 (annealed)","wavenumber":3701,"absorbance":1.00},{"series":"sample 199 (annealed)","wavenumber":3695,"absorbance":1.17},{"series":"sample 199 (annealed)","wavenumber":3689,"absorbance":0.87},{"series":"sample 199 (annealed)","wavenumber":3681,"absorbance":1.23},{"series":"sample 199 (annealed)","wavenumber":3674,"absorbance":0.91},{"series":"sample 199 (annealed)","wavenumber":3669,"absorbance":0.80},{"series":"sample 199 (annealed)","wavenumber":3663,"absorbance":1.17},{"series":"sample 199 (annealed)","wavenumber":3656,"absorbance":1.23},{"series":"sample 199 (annealed)","wavenumber":3649,"absorbance":1.03},{"series":"sample 199 (annealed)","wavenumber":3643,"absorbance":1.11},{"series":"sample 199 (annealed)","wavenumber":3635,"absorbance":1.29},{"series":"sample 199 (annealed)","wavenumber":3629,"absorbance":1.17},{"series":"sample 199 (annealed)","wavenumber":3623,"absorbance":1.24},{"series":"sample 199 (annealed)","wavenumber":3617,"absorbance":1.23},{"series":"sample 199 (annealed)","wavenumber":3610,"absorbance":1.18},{"series":"sample 199 (annealed)","wavenumber":3604,"absorbance":1.28},{"series":"sample 199 (annealed)","wavenumber":3598,"absorbance":1.30},{"series":"sample 199 (annealed)","wavenumber":3592,"absorbance":1.41},{"series":"sample 199 (annealed)","wavenumber":3585,"absorbance":1.61},{"series":"sample 199 (annealed)","wavenumber":3579,"absorbance":1.50},{"series":"sample 199 (annealed)","wavenumber":3574,"absorbance":1.35},{"series":"sample 199 (annealed)","wavenumber":3569,"absorbance":1.38},{"series":"sample 199 (annealed)","wavenumber":3563,"absorbance":1.23},{"series":"sample 199 (annealed)","wavenumber":3555,"absorbance":1.33},{"series":"sample 199 (annealed)","wavenumber":3546,"absorbance":1.35},{"series":"sample 199 (annealed)","wavenumber":3536,"absorbance":1.37},{"series":"sample 199 (annealed)","wavenumber":3526,"absorbance":1.41},{"series":"sample 199 (annealed)","wavenumber":3513,"absorbance":1.48},{"series":"sample 199 (annealed)","wavenumber":3501,"absorbance":1.57},{"series":"sample 199 (annealed)","wavenumber":3485,"absorbance":1.63},{"series":"sample 199 (annealed)","wavenumber":3468,"absorbance":1.69},{"series":"sample 199 (annealed)","wavenumber":3456,"absorbance":1.76},{"series":"sample 199 (annealed)","wavenumber":3443,"absorbance":1.83},{"series":"sample 199 (annealed)","wavenumber":3433,"absorbance":1.86},{"series":"sample 199 (annealed)","wavenumber":3419,"absorbance":1.83},{"series":"sample 199 (annealed)","wavenumber":3402,"absorbance":1.82},{"series":"sample 199 (annealed)","wavenumber":3392,"absorbance":1.81},{"series":"sample 199 (annealed)","wavenumber":3379,"absorbance":1.84},{"series":"sample 199 (annealed)","wavenumber":3369,"absorbance":1.72},{"series":"sample 199 (annealed)","wavenumber":3362,"absorbance":1.67},{"series":"sample 199 (annealed)","wavenumber":3349,"absorbance":1.57},{"series":"sample 199 (annealed)","wavenumber":3333,"absorbance":1.53},{"series":"sample 199 (annealed)","wavenumber":3316,"absorbance":1.51},{"series":"sample 199 (annealed)","wavenumber":3300,"absorbance":1.46},{"series":"sample 199 (annealed)","wavenumber":3283,"absorbance":1.37},{"series":"sample 199 (annealed)","wavenumber":3267,"absorbance":1.29},{"series":"sample 199 (annealed)","wavenumber":3246,"absorbance":1.24},{"series":"sample 199 (annealed)","wavenumber":3226,"absorbance":1.23},{"series":"sample 199 (annealed)","wavenumber":3201,"absorbance":1.24},{"series":"sample 199 (annealed)","wavenumber":3184,"absorbance":1.18},{"series":"sample 199 (annealed)","wavenumber":3164,"absorbance":1.11},{"series":"sample 199 (annealed)","wavenumber":3135,"absorbance":1.05},{"series":"sample 199 (annealed)","wavenumber":3102,"absorbance":1.01},{"series":"sample 199 (annealed)","wavenumber":3069,"absorbance":0.99},{"series":"sample 199 (annealed)","wavenumber":3036,"absorbance":0.97},{"series":"sample 199 (annealed)","wavenumber":3011,"absorbance":0.97},{"series":"sample 199 (annealed)","wavenumber":2991,"absorbance":0.98},{"series":"sample 199 (annealed)","wavenumber":2978,"absorbance":1.02},{"series":"sample 199 (annealed)","wavenumber":2966,"absorbance":1.12},{"series":"sample 199 (annealed)","wavenumber":2958,"absorbance":1.21},{"series":"sample 199 (annealed)","wavenumber":2951,"absorbance":1.20},{"series":"sample 199 (annealed)","wavenumber":2943,"absorbance":1.28},{"series":"sample 199 (annealed)","wavenumber":2933,"absorbance":1.69},{"series":"sample 199 (annealed)","wavenumber":2925,"absorbance":2.12},{"series":"sample 199 (annealed)","wavenumber":2919,"absorbance":2.36},{"series":"sample 199 (annealed)","wavenumber":2914,"absorbance":2.12},{"series":"sample 199 (annealed)","wavenumber":2908,"absorbance":1.46},{"series":"sample 199 (annealed)","wavenumber":2900,"absorbance":1.28},{"series":"sample 199 (annealed)","wavenumber":2889,"absorbance":1.17},{"series":"sample 199 (annealed)","wavenumber":2879,"absorbance":1.10},{"series":"sample 199 (annealed)","wavenumber":2867,"absorbance":1.14},{"series":"sample 199 (annealed)","wavenumber":2859,"absorbance":1.34},{"series":"sample 199 (annealed)","wavenumber":2854,"absorbance":1.69},{"series":"sample 199 (annealed)","wavenumber":2850,"absorbance":1.94},{"series":"sample 199 (annealed)","wavenumber":2846,"absorbance":1.69},{"series":"sample 199 (annealed)","wavenumber":2840,"absorbance":1.17},{"series":"sample 199 (annealed)","wavenumber":2830,"absorbance":1.05},{"series":"sample 199 (annealed)","wavenumber":2813,"absorbance":1.05},{"series":"sample 199 (annealed)","wavenumber":2798,"absorbance":1.09},
{"series":"sample 190","wavenumber":3996,"absorbance":0.26},{"series":"sample 190","wavenumber":3979,"absorbance":0.25},{"series":"sample 190","wavenumber":3967,"absorbance":0.26},{"series":"sample 190","wavenumber":3955,"absorbance":0.24},{"series":"sample 190","wavenumber":3946,"absorbance":0.27},{"series":"sample 190","wavenumber":3940,"absorbance":0.32},{"series":"sample 190","wavenumber":3934,"absorbance":0.23},{"series":"sample 190","wavenumber":3928,"absorbance":0.33},{"series":"sample 190","wavenumber":3922,"absorbance":0.22},{"series":"sample 190","wavenumber":3915,"absorbance":0.18},{"series":"sample 190","wavenumber":3910,"absorbance":0.39},{"series":"sample 190","wavenumber":3906,"absorbance":0.51},{"series":"sample 190","wavenumber":3901,"absorbance":0.15},{"series":"sample 190","wavenumber":3897,"absorbance":0.39},{"series":"sample 190","wavenumber":3892,"absorbance":0.19},{"series":"sample 190","wavenumber":3887,"absorbance":0.42},{"series":"sample 190","wavenumber":3882,"absorbance":0.16},{"series":"sample 190","wavenumber":3878,"absorbance":0.39},{"series":"sample 190","wavenumber":3872,"absorbance":0.22},{"series":"sample 190","wavenumber":3867,"absorbance":0.38},{"series":"sample 190","wavenumber":3862,"absorbance":0.16},{"series":"sample 190","wavenumber":3856,"absorbance":0.45},{"series":"sample 190","wavenumber":3852,"absorbance":0.65},{"series":"sample 190","wavenumber":3849,"absorbance":0.0},{"series":"sample 190","wavenumber":3844,"absorbance":0.39},{"series":"sample 190","wavenumber":3839,"absorbance":0.52},{"series":"sample 190","wavenumber":3834,"absorbance":0.19},{"series":"sample 190","wavenumber":3828,"absorbance":0.32},{"series":"sample 190","wavenumber":3824,"absorbance":0.45},{"series":"sample 190","wavenumber":3819,"absorbance":0.16},{"series":"sample 190","wavenumber":3814,"absorbance":0.34},{"series":"sample 190","wavenumber":3810,"absorbance":0.25},{"series":"sample 190","wavenumber":3805,"absorbance":0.48},{"series":"sample 190","wavenumber":3800,"absorbance":0.16},{"series":"sample 190","wavenumber":3793,"absorbance":0.23},{"series":"sample 190","wavenumber":3787,"absorbance":0.31},{"series":"sample 190","wavenumber":3781,"absorbance":0.19},{"series":"sample 190","wavenumber":3776,"absorbance":0.32},{"series":"sample 190","wavenumber":3770,"absorbance":0.25},{"series":"sample 190","wavenumber":3765,"absorbance":0.36},{"series":"sample 190","wavenumber":3759,"absorbance":0.19},{"series":"sample 190","wavenumber":3754,"absorbance":0.62},{"series":"sample 190","wavenumber":3750,"absorbance":0.45},{"series":"sample 190","wavenumber":3746,"absorbance":0.22},{"series":"sample 190","wavenumber":3742,"absorbance":0.58},{"series":"sample 190","wavenumber":3737,"absorbance":0.28},{"series":"sample 190","wavenumber":3732,"absorbance":0.55},{"series":"sample 190","wavenumber":3727,"absorbance":0.36},{"series":"sample 190","wavenumber":3722,"absorbance":0.25},{"series":"sample 190","wavenumber":3717,"absorbance":0.45},{"series":"sample 190","wavenumber":3712,"absorbance":0.31},{"series":"sample 190","wavenumber":3707,"absorbance":0.51},{"series":"sample 190","wavenumber":3702,"absorbance":0.25},{"series":"sample 190","wavenumber":3697,"absorbance":0.39},{"series":"sample 190","wavenumber":3692,"absorbance":0.56},{"series":"sample 190","wavenumber":3687,"absorbance":0.19},{"series":"sample 190","wavenumber":3682,"absorbance":0.45},{"series":"sample 190","wavenumber":3676,"absorbance":0.61},{"series":"sample 190","wavenumber":3671,"absorbance":0.23},{"series":"sample 190","wavenumber":3666,"absorbance":0.48},{"series":"sample 190","wavenumber":3660,"absorbance":0.64},{"series":"sample 190","wavenumber":3655,"absorbance":0.34},{"series":"sample 190","wavenumber":3649,"absorbance":0.67},{"series":"sample 190","wavenumber":3645,"absorbance":0.39},{"series":"sample 190","wavenumber":3640,"absorbance":0.55},{"series":"sample 190","wavenumber":3635,"absorbance":0.51},{"series":"sample 190","wavenumber":3630,"absorbance":0.61},{"series":"sample 190","wavenumber":3625,"absorbance":0.56},{"series":"sample 190","wavenumber":3620,"absorbance":0.61},{"series":"sample 190","wavenumber":3614,"absorbance":0.55},{"series":"sample 190","wavenumber":3608,"absorbance":0.65},{"series":"sample 190","wavenumber":3603,"absorbance":0.56},{"series":"sample 190","wavenumber":3598,"absorbance":0.64},{"series":"sample 190","wavenumber":3592,"absorbance":0.79},{"series":"sample 190","wavenumber":3588,"absorbance":0.97},{"series":"sample 190","wavenumber":3585,"absorbance":1.15},{"series":"sample 190","wavenumber":3581,"absorbance":0.91},{"series":"sample 190","wavenumber":3575,"absorbance":0.62},{"series":"sample 190","wavenumber":3570,"absorbance":0.71},{"series":"sample 190","wavenumber":3565,"absorbance":0.51},{"series":"sample 190","wavenumber":3559,"absorbance":0.54},{"series":"sample 190","wavenumber":3551,"absorbance":0.56},{"series":"sample 190","wavenumber":3542,"absorbance":0.55},{"series":"sample 190","wavenumber":3530,"absorbance":0.58},{"series":"sample 190","wavenumber":3518,"absorbance":0.63},{"series":"sample 190","wavenumber":3501,"absorbance":0.68},{"series":"sample 190","wavenumber":3485,"absorbance":0.72},{"series":"sample 190","wavenumber":3468,"absorbance":0.77},{"series":"sample 190","wavenumber":3452,"absorbance":0.85},{"series":"sample 190","wavenumber":3439,"absorbance":0.95},{"series":"sample 190","wavenumber":3433,"absorbance":0.98},{"series":"sample 190","wavenumber":3423,"absorbance":0.94},{"series":"sample 190","wavenumber":3410,"absorbance":0.89},{"series":"sample 190","wavenumber":3394,"absorbance":0.88},{"series":"sample 190","wavenumber":3379,"absorbance":0.94},{"series":"sample 190","wavenumber":3369,"absorbance":0.85},{"series":"sample 190","wavenumber":3358,"absorbance":0.78},{"series":"sample 190","wavenumber":3341,"absorbance":0.73},{"series":"sample 190","wavenumber":3316,"absorbance":0.74},{"series":"sample 190","wavenumber":3300,"absorbance":0.74},{"series":"sample 190","wavenumber":3283,"absorbance":0.68},{"series":"sample 190","wavenumber":3263,"absorbance":0.62},{"series":"sample 190","wavenumber":3242,"absorbance":0.61},{"series":"sample 190","wavenumber":3221,"absorbance":0.62},{"series":"sample 190","wavenumber":3201,"absorbance":0.64},{"series":"sample 190","wavenumber":3184,"absorbance":0.58},{"series":"sample 190","wavenumber":3160,"absorbance":0.48},{"series":"sample 190","wavenumber":3127,"absorbance":0.39},{"series":"sample 190","wavenumber":3094,"absorbance":0.32},{"series":"sample 190","wavenumber":3061,"absorbance":0.28},{"series":"sample 190","wavenumber":3028,"absorbance":0.26},{"series":"sample 190","wavenumber":2995,"absorbance":0.25},{"series":"sample 190","wavenumber":2962,"absorbance":0.29},{"series":"sample 190","wavenumber":2941,"absorbance":0.31},{"series":"sample 190","wavenumber":2929,"absorbance":0.33},{"series":"sample 190","wavenumber":2919,"absorbance":0.39},{"series":"sample 190","wavenumber":2911,"absorbance":0.29},{"series":"sample 190","wavenumber":2896,"absorbance":0.25},{"series":"sample 190","wavenumber":2871,"absorbance":0.25},{"series":"sample 190","wavenumber":2854,"absorbance":0.28},{"series":"sample 190","wavenumber":2850,"absorbance":0.34},{"series":"sample 190","wavenumber":2845,"absorbance":0.25},{"series":"sample 190","wavenumber":2822,"absorbance":0.26},{"series":"sample 190","wavenumber":2798,"absorbance":0.28}
]
},
"vconcat": [
{
  "width": 485, "height": 291,
  "layer": [
    {"data": {"name": "a"}, "mark": {"type": "line", "strokeWidth": 1.6},
     "encoding": {
       "x": {"field": "wavenumber", "type": "quantitative", "scale": {"domain": [4000, 2800], "nice": false, "zero": false}, "axis": {"values": [4000,3800,3600,3400,3200,3000,2800], "tickCount": 50, "format": "d", "title": null, "labelPadding": 5, "labelDx": -4, "labelFontSize": 16, "labelOverlap": false}},
       "y": {"field": "absorbance", "type": "quantitative", "scale": {"domain": [0, 6.4], "nice": false, "zero": false}, "axis": {"values": [0,0.5,1,1.5,2,2.5,3,3.5,4,4.5,5,5.5,6], "tickCount": 50, "labelExpr": "datum.value % 1 === 0 ? format(datum.value, '.1f') : ''", "title": "absorbance [cm⁻¹]", "titlePadding": 14, "labelPadding": 12, "labelFontSize": 16, "titleFontSize": 20, "labelOverlap": false}},
       "color": {"field": "series", "type": "nominal", "scale": {"domain": ["sample 199 (annealed)", "sample 190"], "range": ["#111111", "#8a8a8a"]},
         "legend": {"orient": "none", "legendX": 273, "legendY": -54, "title": null, "symbolType": "stroke", "symbolSize": 1089, "symbolStrokeWidth": 2, "labelFontSize": 19, "labelFont": "Lato", "labelOffset": 11, "rowPadding": -7, "padding": 0, "labelLimit": 400, "labelColor": "#111111",
           "encode": {"labels": {"update": {"fill": {"signal": "datum.label === 'sample 190' ? '#8a8a8a' : '#111111'"}}}}}}
     }},
    {"data": {"values": [{}]}, "mark": {"type": "rule", "stroke": "#333333", "strokeWidth": 1.5},
     "encoding": {"x": {"datum": 4260}, "y": {"datum": 7.785}, "y2": {"datum": -1.473}}},
    {"data": {"values": [{}]}, "mark": {"type": "rule", "stroke": "#333333", "strokeWidth": 1.5},
     "encoding": {"x": {"datum": 4260}, "x2": {"datum": 2690}, "y": {"datum": 7.785}}},
    {"data": {"values": [{}]}, "mark": {"type": "rect", "fill": "white", "stroke": "#333333", "strokeWidth": 1.3},
     "encoding": {"x": {"datum": 4260}, "x2": {"datum": 4164}, "y": {"datum": 7.785}, "y2": {"datum": 6.664}}},
    {"data": {"values": [{}]}, "mark": {"type": "text", "text": "a", "fontSize": 32, "font": "Lato", "align": "center", "baseline": "alphabetic", "color": "#111111"},
     "encoding": {"x": {"datum": 4212}, "y": {"datum": 6.994}}},
    {"data": {"values": [{}]}, "mark": {"type": "text", "text": "Average of all spectra", "fontSize": 23, "font": "Lato", "align": "left", "baseline": "alphabetic", "color": "#111111"},
     "encoding": {"x": {"datum": 4074}, "y": {"datum": 7.126}}}
  ]
},
{
  "bounds": "flush",
  "spacing": 139,
  "resolve": {"scale": {"x": "independent", "y": "independent"}, "axis": {"x": "independent", "y": "independent"}, "legend": {"color": "independent"}},
  "vconcat": [
  {
    "width": 485, "height": 234,
    "layer": [
      {"data": {"name": "b"}, "mark": {"type": "line", "strokeWidth": 1.6},
       "encoding": {
         "x": {"field": "wavenumber", "type": "quantitative", "scale": {"domain": [4000, 2800], "nice": false, "zero": false}, "axis": {"values": [4000,3800,3600,3400,3200,3000,2800], "tickCount": 50, "format": "d", "title": null, "labelPadding": 5, "labelDx": -4, "labelFontSize": 16, "labelOverlap": false}},
         "y": {"field": "absorbance", "type": "quantitative", "scale": {"domain": [0, 3.2], "nice": false, "zero": false}, "axis": {"values": [0.2,0.4,0.6,0.8,1,1.2,1.4,1.6,1.8,2,2.2,2.4,2.6,2.8,3], "tickCount": 50, "labelExpr": "round(datum.value * 10) % 4 === 2 ? format(datum.value, '.1f') : ''", "title": "absorbance [cm⁻¹]", "titlePadding": 14, "labelPadding": 12, "labelFontSize": 16, "titleFontSize": 20, "labelOverlap": false}},
         "color": {"field": "series", "type": "nominal", "scale": {"domain": ["sample 199 (annealed)", "sample 190"], "range": ["#111111", "#8a8a8a"]}, "legend": null}
       }},
      {"data": {"values": [{}]}, "mark": {"type": "rule", "stroke": "#333333", "strokeWidth": 1.5},
       "encoding": {"x": {"datum": 4260}, "y": {"datum": 4.007}, "y2": {"datum": -1.053}}},
      {"data": {"values": [{}]}, "mark": {"type": "rect", "fill": "white", "stroke": "#333333", "strokeWidth": 1.3},
       "encoding": {"x": {"datum": 4260}, "x2": {"datum": 4164}, "y": {"datum": 4.280}, "y2": {"datum": 3.583}}},
      {"data": {"values": [{}]}, "mark": {"type": "text", "text": "b", "fontSize": 32, "font": "Lato", "align": "center", "baseline": "alphabetic", "color": "#111111"},
       "encoding": {"x": {"datum": 4212}, "y": {"datum": 3.761}}},
      {"data": {"values": [{}]}, "mark": {"type": "text", "text": "Average of all spectra with <2000 molar ppm H", "fontSize": 23, "font": "Lato", "align": "left", "baseline": "alphabetic", "color": "#111111"},
       "encoding": {"x": {"datum": 4074}, "y": {"datum": 3.829}}}
    ]
  },
  {
    "width": 485, "height": 233,
    "layer": [
      {"data": {"name": "c"}, "mark": {"type": "line", "strokeWidth": 1.6},
       "encoding": {
         "x": {"field": "wavenumber", "type": "quantitative", "scale": {"domain": [4000, 2800], "nice": false, "zero": false}, "axis": {"values": [4000,3800,3600,3400,3200,3000,2800], "tickCount": 50, "format": "d", "title": "wave number [cm⁻¹]", "titlePadding": 10, "labelPadding": 5, "labelDx": -4, "labelFontSize": 16, "titleFontSize": 20, "labelOverlap": false}},
         "y": {"field": "absorbance", "type": "quantitative", "scale": {"domain": [0, 2.0], "nice": false, "zero": false}, "axis": {"values": [0.2,0.4,0.6,0.8,1,1.2,1.4,1.6,1.8], "tickCount": 50, "format": ".1f", "title": "absorbance [cm⁻¹]", "titlePadding": 14, "labelPadding": 12, "labelFontSize": 16, "titleFontSize": 20, "labelOverlap": false}},
         "color": {"field": "series", "type": "nominal", "scale": {"domain": ["sample 199 (annealed)", "sample 190"], "range": ["#111111", "#8a8a8a"]}, "legend": null}
       }},
      {"data": {"values": [{}]}, "mark": {"type": "rule", "stroke": "#333333", "strokeWidth": 1.5},
       "encoding": {"x": {"datum": 4260}, "y": {"datum": 2.532}, "y2": {"datum": -0.601}}},
      {"data": {"values": [{}]}, "mark": {"type": "rect", "fill": "white", "stroke": "#333333", "strokeWidth": 1.3},
       "encoding": {"x": {"datum": 4260}, "x2": {"datum": 4164}, "y": {"datum": 2.798}, "y2": {"datum": 2.361}}},
      {"data": {"values": [{}]}, "mark": {"type": "text", "text": "c", "fontSize": 32, "font": "Lato", "align": "center", "baseline": "alphabetic", "color": "#111111"},
       "encoding": {"x": {"datum": 4212}, "y": {"datum": 2.481}}},
      {"data": {"values": [{}]}, "mark": {"type": "text", "text": "Average of all spectra with <1000 molar ppm H", "fontSize": 23, "font": "Lato", "align": "left", "baseline": "alphabetic", "color": "#111111"},
       "encoding": {"x": {"datum": 4074}, "y": {"datum": 2.524}}}
    ]
  }
  ]
}
]
}
